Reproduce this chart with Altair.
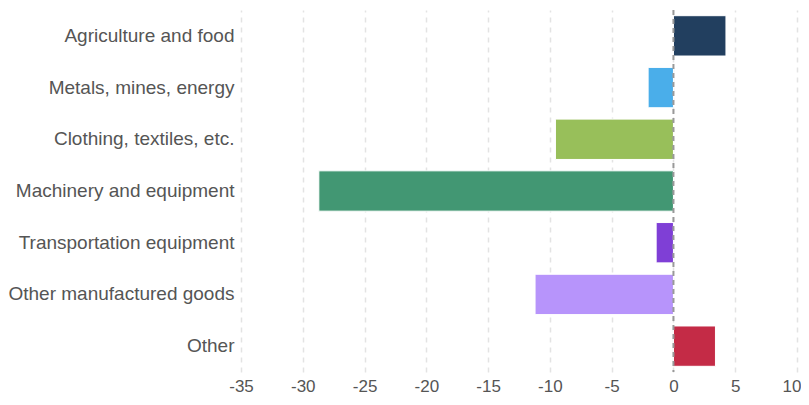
import altair as alt
import pandas as pd

categories = [
    "Agriculture and food",
    "Metals, mines, energy",
    "Clothing, textiles, etc.",
    "Machinery and equipment",
    "Transportation equipment",
    "Other manufactured goods",
    "Other",
]
values = [4.25, -2.05, -9.55, -28.7, -1.4, -11.2, 3.4]
colors = ["#223f5f", "#4aaeea", "#98bf5a", "#429773", "#7f3fd6", "#b794fb", "#c42b46"]
tick_values = [-35, -30, -25, -20, -15, -10, -5, 0, 5, 10]

df = pd.DataFrame({"category": categories, "value": values})

bars = alt.Chart(df).mark_bar(stroke="white", strokeWidth=1).encode(
    y=alt.Y("category:N", sort=categories, title=None,
            scale=alt.Scale(paddingInner=0.22, paddingOuter=0.11),
            axis=alt.Axis(domain=False, ticks=False, labelFont="Liberation Sans",
                          labelFontSize=19, labelColor="#555555", labelPadding=7,
                          labelLimit=300)),
    x=alt.X("value:Q", title=None,
            scale=alt.Scale(domain=[-35, 10], nice=False),
            axis=alt.Axis(values=tick_values, domain=False, ticks=False,
                          grid=True, gridDash=[5, 5], gridColor="#e3e3e3", gridWidth=1.5,
                          labelExpr="replace(datum.label, '\u2212', '-')",
                          labelFlush=False,
                          labelAlign=alt.expr("datum.value == 10 ? 'right' : 'center'"),
                          labelOffset=alt.expr("datum.value == 10 ? 4 : 0"),
                          labelFont="Liberation Sans", labelFontSize=17,
                          labelColor="#555555", labelPadding=6)),
    color=alt.Color("category:N", scale=alt.Scale(domain=categories, range=colors), legend=None),
)

zero = alt.Chart(pd.DataFrame({"z": [0]})).mark_rule(
    strokeDash=[5, 4], color="#999999", strokeWidth=2
).encode(x="z:Q")

chart = (bars + zero).properties(
    width=556, height=362,
    autosize=alt.AutoSizeParams(type="none"),
    padding={"left": 233, "top": 2, "right": 4, "bottom": 25},
).configure_view(stroke=None)

chart.save("out.html", embed_options={"renderer": "svg", "actions": False})
